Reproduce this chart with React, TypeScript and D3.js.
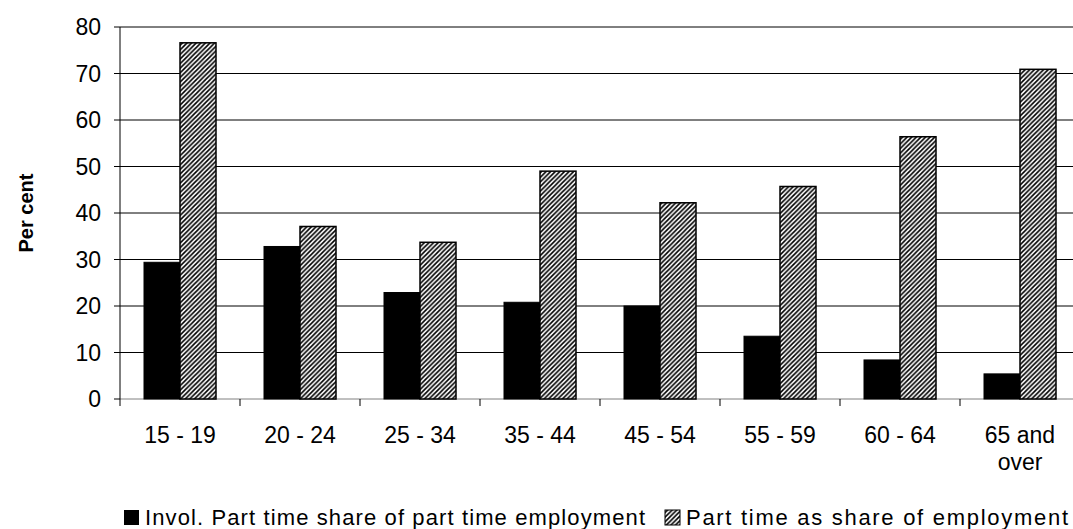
import React from "react";
import * as d3 from "d3";

const categories = ["15 - 19", "20 - 24", "25 - 34", "35 - 44", "45 - 54", "55 - 59", "60 - 64", "65 and over"];
const involShare = [29.4, 32.8, 22.9, 20.8, 20.0, 13.5, 8.4, 5.4];
const partTimeShare = [76.6, 37.1, 33.7, 49.0, 42.2, 45.7, 56.4, 70.9];
const yTicks = [0, 10, 20, 30, 40, 50, 60, 70, 80];
const seriesNames = ["Invol. Part time share of part time employment", "Part time as share of employment"];

const W = 1073;
const H = 529;
const margin = { left: 120, right: 1080, top: 27, bottom: 399 };
const FONT = "'Liberation Sans', Arial, sans-serif";

export default function App() {
  const x = d3.scaleBand<string>().domain(categories).range([margin.left, margin.right]);
  const y = d3.scaleLinear().domain([0, 80]).range([margin.bottom, margin.top]);
  const barW = 36;

  const labelLines = (c: string) => (c === "65 and over" ? ["65 and", "over"] : [c]);

  return (
    <svg width={W} height={H} style={{ position: "absolute", left: 0, top: 0, background: "#fff" }}>
      <defs>
        <pattern id="hatch" patternUnits="userSpaceOnUse" width="4.6" height="4.6">
          <rect width="4.6" height="4.6" fill="#fff" />
          <path d="M-1,1 L1,-1 M0,4.6 L4.6,0 M3.6,5.6 L5.6,3.6" stroke="#000" strokeWidth="1.6" />
        </pattern>
      </defs>

      {/* horizontal gridlines */}
      {yTicks.map((t) => (
        <line key={"g" + t} x1={margin.left} x2={margin.right} y1={y(t)} y2={y(t)} stroke={t === 0 ? "#808080" : "#000"} strokeWidth={1} />
      ))}

      {/* y axis */}
      <line x1={margin.left} x2={margin.left} y1={margin.top} y2={margin.bottom + 7} stroke="#000" strokeWidth={1} />
      {yTicks.map((t) => (
        <g key={"yt" + t}>
          <line x1={margin.left - 6} x2={margin.left} y1={y(t)} y2={y(t)} stroke="#000" />
          <text x={101} y={y(t)} dy="0.36em" textAnchor="end" fontFamily={FONT} fontSize={23} fill="#000">
            {t}
          </text>
        </g>
      ))}

      {/* x axis ticks */}
      {categories.map((c, i) => (
        <line key={"xt" + i} x1={(x(c) as number) + x.bandwidth()} x2={(x(c) as number) + x.bandwidth()} y1={margin.bottom} y2={margin.bottom + 7} stroke="#000" />
      ))}

      {/* bars */}
      {categories.map((c, i) => {
        const cx = (x(c) as number) + x.bandwidth() / 2;
        return (
          <g key={"b" + i}>
            <rect x={cx - barW} y={y(involShare[i])} width={barW} height={y(0) - y(involShare[i])} fill="#000" stroke="#000" strokeWidth={1} />
            <rect x={cx} y={y(partTimeShare[i])} width={barW} height={y(0) - y(partTimeShare[i])} fill="url(#hatch)" stroke="#000" strokeWidth={1.5} />
          </g>
        );
      })}

      {/* category labels */}
      {categories.map((c, i) => {
        const cx = (x(c) as number) + x.bandwidth() / 2;
        return (
          <text key={"xl" + i} x={cx} y={443} textAnchor="middle" fontFamily={FONT} fontSize={23} fill="#000">
            {labelLines(c).map((l, j) => (
              <tspan key={j} x={cx} dy={j === 0 ? 0 : 27}>
                {l}
              </tspan>
            ))}
          </text>
        );
      })}

      {/* y axis title */}
      <text transform={`translate(33,${(margin.top + margin.bottom) / 2}) rotate(-90)`} textAnchor="middle" fontFamily={FONT} fontSize={20} fontWeight="bold" fill="#000">
        Per cent
      </text>

      {/* legend */}
      <rect x={124} y={510} width={15} height={15} fill="#000" />
      <text x={145} y={525} fontFamily={FONT} fontSize={22} fill="#000" textLength={500} lengthAdjust="spacing">
        {seriesNames[0]}
      </text>
      <rect x={665} y={510} width={15} height={15} fill="url(#hatch)" stroke="#000" strokeWidth={1} />
      <text x={686} y={525} fontFamily={FONT} fontSize={22} fill="#000" textLength={382} lengthAdjust="spacing">
        {seriesNames[1]}
      </text>
    </svg>
  );
}
